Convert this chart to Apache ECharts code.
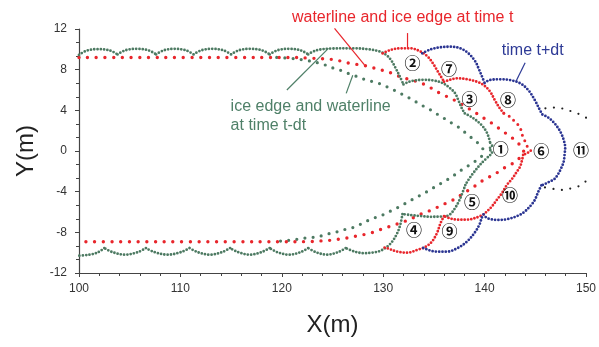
<!DOCTYPE html>
<html>
<head>
<meta charset="utf-8">
<script src="https://cdn.jsdelivr.net/npm/echarts@6/dist/echarts.min.js"></script>
<style>
  html, body { margin: 0; padding: 0; background: #fff; }
  #chart { width: 599px; height: 347px; }
</style>
</head>
<body>
<div id="chart"></div>
<script>
// ---- axes ----
const xRange = [100, 150];
const xStep = 10;
const yRange = [-12, 12];
const yStep = 4;

// ---- ice edge at time t-dt (scalloped arcs, one array per arc) ----
const greenEdgeArcs = [
  [[100, 9.45], [100.7, 9.85], [101.8, 10.02], [103.0, 9.9], [103.8, 9.5]],
  [[103.8, 9.5], [104.55, 9.9], [105.7, 10.05], [106.85, 9.9], [107.6, 9.5]],
  [[107.6, 9.5], [108.35, 9.9], [109.45, 10.05], [110.55, 9.9], [111.3, 9.5]],
  [[111.3, 9.5], [112.05, 9.9], [113.15, 10.05], [114.25, 9.9], [115.0, 9.5]],
  [[115.0, 9.5], [115.75, 9.9], [116.9, 10.05], [118.05, 9.9], [118.8, 9.5]],
  [[118.8, 9.5], [119.55, 9.9], [120.7, 10.05], [121.85, 9.9], [122.6, 9.5]],
  [[122.6, 9.5], [123.4, 9.9], [125.0, 10.08], [127.0, 10.1], [128.6, 10.0], [129.6, 9.8], [130.3, 9.45], [130.8, 8.9], [131.25, 8.1], [131.65, 7.3], [132.0, 6.55]],
  [[132.0, 6.55], [132.4, 6.75], [132.9, 6.9], [133.9, 7.0], [135.0, 6.93], [135.9, 6.66], [136.6, 6.17], [137.1, 5.67], [137.45, 4.9], [137.8, 4.1], [138.05, 3.7]],
  [[138.05, 3.7], [138.85, 3.25], [139.7, 2.55], [140.2, 1.85], [140.45, 1.2], [140.55, 0.8]],
  [[140.55, 0.8], [140.75, 0.5], [140.45, 0.2], [140.75, -0.1], [140.55, -0.4]],
  [[140.55, -0.4], [139.7, -1.2], [138.9, -2.15], [138.4, -2.85], [138.1, -3.35]],
  [[138.1, -3.35], [137.6, -4.65], [137.1, -5.6], [136.5, -6.3], [135.65, -6.45], [134.7, -6.47], [133.7, -6.4], [132.7, -6.3], [131.9, -6.2]],
  [[131.9, -6.2], [131.7, -7.2], [131.4, -8.05], [130.9, -8.9], [130.4, -9.4], [129.7, -9.83], [128.9, -10.0], [128.1, -10.05], [127.2, -9.9], [126.3, -9.55]],
  [[126.3, -9.55], [125.55, -9.95], [124.45, -10.2], [123.35, -9.95], [122.6, -9.55]],
  [[122.6, -9.55], [121.85, -9.95], [120.7, -10.2], [119.55, -9.95], [118.8, -9.55]],
  [[118.8, -9.55], [118.0, -9.95], [116.85, -10.2], [115.7, -9.95], [114.9, -9.55]],
  [[114.9, -9.55], [114.1, -9.95], [112.9, -10.2], [111.7, -9.95], [110.9, -9.55]],
  [[110.9, -9.55], [110.05, -9.95], [108.75, -10.2], [107.45, -9.95], [106.6, -9.55]],
  [[106.6, -9.55], [105.8, -9.95], [104.55, -10.2], [103.3, -9.95], [102.5, -9.55]],
  [[102.5, -9.55], [101.8, -10.0], [101.0, -10.2], [100, -10.3]]
];

// ---- ice edge at time t ----
const redEdgeArcs = [
  [[129.95, 9.6], [130.7, 9.93], [131.7, 10.1], [132.7, 10.1], [133.7, 9.77], [134.4, 9.27], [134.9, 8.62], [135.4, 7.8], [135.9, 6.98], [136.0, 6.81]],
  [[136.0, 6.81], [136.5, 6.98], [137.3, 7.15], [138.3, 7.05], [139.25, 6.81], [139.9, 6.49], [140.55, 5.83], [141.0, 5.01], [141.5, 4.2], [141.9, 3.71]],
  [[144.55, 0.03], [144.3, -0.15], [143.8, -0.39]],
  [[143.8, -0.39], [143.7, -0.88], [143.5, -1.54], [143.15, -2.09], [142.7, -2.75], [142.2, -3.34], [141.7, -4.16], [141.2, -4.82], [140.7, -5.48], [140.2, -5.97], [139.9, -6.24]],
  [[139.9, -6.24], [139.2, -6.55], [138.3, -6.75], [137.3, -6.75], [136.5, -6.6], [136.0, -6.4]],
  [[136.0, -6.4], [135.65, -7.11], [135.3, -8.09], [134.8, -8.92], [134.2, -9.41], [133.35, -9.73], [132.4, -10.0], [131.4, -9.9], [130.4, -9.57], [129.9, -9.45]]
];
const redEdgeNose = [[141.9, 3.71], [142.5, 3.37], [143.1, 2.78], [143.5, 2.33], [143.65, 1.74], [143.9, 1.15], [144.1, 0.69], [144.3, 0.27], [144.55, 0.03]];

// ---- ice edge at time t+dt ----
const blueEdgeArcs = [
  [[133.85, 9.61], [134.7, 10.0], [135.65, 10.2], [136.6, 10.26], [137.6, 10.1], [138.4, 9.61], [139.1, 8.78], [139.4, 8.13], [139.75, 7.31], [140.0, 6.69]],
  [[140.0, 6.69], [140.5, 6.98], [141.5, 7.05], [142.5, 6.98], [143.5, 6.66], [144.3, 6.0], [144.95, 5.01], [145.45, 4.03], [145.7, 3.59]],
  [[145.7, 3.59], [146.25, 3.31], [146.75, 2.88], [147.2, 2.33], [147.55, 1.74], [147.8, 1.08], [147.95, 0.32], [147.9, -0.23], [147.8, -1.05], [147.55, -1.7], [147.2, -2.36], [146.9, -2.75], [146.4, -3.02], [145.9, -3.27], [145.6, -3.39]],
  [[145.6, -3.39], [145.3, -4.0], [144.95, -4.82], [144.6, -5.31], [143.95, -5.97], [143.3, -6.36], [142.3, -6.69], [141.35, -6.78], [140.5, -6.69], [140.05, -6.46], [139.9, -6.24]],
  [[139.9, -6.24], [139.7, -6.62], [139.55, -7.11], [139.1, -7.93], [138.25, -8.92], [137.3, -9.57], [136.3, -9.9], [135.3, -9.9], [134.0, -9.57], [133.85, -9.41]]
];

// ---- next breaking arc (11) ----
const blackArc = [[146.0, 4.2], [146.7, 4.27], [147.3, 4.25], [147.95, 4.1], [148.7, 3.85], [149.5, 3.55], [150.2, 3.15], [150.8, 2.65], [151.3, 1.9], [151.6, 0.9], [151.7, 0], [151.6, -0.9], [151.3, -1.75], [150.8, -2.35], [150.2, -2.8], [149.7, -3.2], [149.2, -3.5], [148.5, -3.68], [147.55, -3.83], [146.6, -3.7], [145.8, -3.55]];

// ---- waterlines ----
const redWaterline = [[100, 9.2], [121, 9.2], [123, 9.12], [124.85, 9.02], [125.8, 8.85], [126.7, 8.62], [128.2, 8.4], [129.0, 8.19], [129.8, 7.98], [130.7, 7.7], [131.5, 7.37], [132.5, 7.05], [133.65, 6.72], [134.6, 6.26], [135.5, 5.73], [137.0, 5.01], [138.4, 4.2], [139.1, 3.77], [139.8, 3.31], [140.5, 2.88], [141.2, 2.39], [141.85, 1.9], [142.5, 1.47], [143.15, 0.91], [143.6, 0.45], [143.85, 0], [143.6, -0.5], [143.1, -1.0], [142.5, -1.38], [141.7, -1.8], [141.0, -2.29], [140.2, -2.68], [139.4, -3.18], [138.75, -3.67], [137.9, -4.16], [137.2, -4.65], [136.5, -5.0], [135.8, -5.31], [135.0, -5.7], [134.35, -5.97], [133.5, -6.29], [132.7, -6.7], [131.9, -7.0], [131.1, -7.28], [130.3, -7.54], [129.6, -7.77], [128.7, -8.09], [127.9, -8.26], [127.0, -8.43], [126.2, -8.6], [125.4, -8.7], [124.6, -8.8], [123.75, -8.85], [122.9, -8.9], [121, -8.92], [100, -8.92]];
const greenWaterline = [[119.5, 9.2], [121, 9.1], [122.5, 8.9], [124, 8.55], [125.1, 8.15], [125.9, 7.9], [126.7, 7.57], [127.5, 7.3], [128.3, 7.0], [129.45, 6.7], [130.2, 6.39], [130.9, 6.07], [131.7, 5.67], [132.45, 5.28], [133.2, 4.85], [133.95, 4.42], [134.7, 4.03], [135.3, 3.64], [136.0, 3.22], [136.7, 2.78], [137.45, 2.33], [138.1, 1.8], [138.65, 1.35], [139.2, 0.91], [139.65, 0.45], [139.9, 0], [139.8, -0.4], [139.4, -0.79], [138.75, -1.21], [138.1, -1.64], [137.45, -2.04], [136.8, -2.53], [136.1, -2.95], [135.3, -3.41], [134.7, -3.77], [133.85, -4.26], [133.1, -4.65], [132.4, -5.04], [131.6, -5.48], [130.75, -5.9], [129.95, -6.29], [129.2, -6.56], [128.4, -6.88], [127.6, -7.28], [126.8, -7.6], [126.0, -7.77], [125.2, -8.03], [124.4, -8.19], [123.6, -8.43], [122.8, -8.52], [121.95, -8.6], [121.1, -8.75], [120.25, -8.82], [119.4, -8.92]];

// ---- annotations (data coordinates) ----
const captions = [
  { text: 'waterline and ice edge at time t', at: [121.0, 13.15], color: 'red' },
  { text: 'time t+dt', at: [141.7, 9.85], color: 'blue' },
  { text: 'ice edge and waterline', at: [114.95, 4.35], color: 'green' },
  { text: 'at time t-dt', at: [114.95, 2.5], color: 'green' }
];
const leaders = [
  { from: [125.2, 12.07], to: [128.15, 8.46], color: 'red' },
  { from: [132.4, 11.6], to: [132.4, 10.15], color: 'red' },
  { from: [144.0, 8.68], to: [143.1, 6.85], color: 'blue' },
  { from: [120.5, 6.0], to: [124.6, 10.1], color: 'green' },
  { from: [126.35, 5.67], to: [127.0, 7.45], color: 'green' }
];
const eventTags = [
  { tag: '①', at: [141.6, 0.2] },
  { tag: '②', at: [132.9, 8.68] },
  { tag: '③', at: [138.5, 5.08] },
  { tag: '④', at: [133.05, -7.77] },
  { tag: '⑤', at: [138.75, -4.99] },
  { tag: '⑥', at: [145.6, 0.0] },
  { tag: '⑦', at: [136.5, 8.03] },
  { tag: '⑧', at: [142.3, 5.01] },
  { tag: '⑨', at: [136.55, -7.87] },
  { tag: '⑩', at: [142.5, -4.33] },
  { tag: '⑪', at: [149.5, 0.1] }
];

const COLORS = { green: '#4d7a62', red: '#e8262c', blue: '#2b3592', black: '#222222' };
const TEXT_COLORS = { green: '#4f8068', red: '#e8262c', blue: '#2d3a96' };

function joinArcs(arcs) {
  const out = [];
  arcs.forEach((arc, i) => {
    if (i) out.push(['-', '-']);
    arc.forEach(p => out.push(p));
  });
  return out;
}

function dotted(name, data, color, size, gap, extra) {
  return Object.assign({
    type: 'line',
    name: name,
    data: data,
    showSymbol: false,
    symbol: 'none',
    smooth: 0.35,
    silent: true,
    animation: false,
    connectNulls: false,
    lineStyle: { color: color, width: size, type: [0, gap], cap: 'round', join: 'round' }
  }, extra || {});
}

const chart = echarts.init(document.getElementById('chart'), null, { renderer: 'canvas' });

chart.setOption({
  animation: false,
  backgroundColor: '#ffffff',
  grid: { left: 79, right: 9, top: 29, bottom: 74 },
  xAxis: {
    type: 'value', min: xRange[0], max: xRange[1], interval: xStep,
    name: 'X(m)', nameLocation: 'middle', nameGap: 40,
    nameTextStyle: { fontSize: 24, color: '#222', fontFamily: '"Liberation Sans", Arial, sans-serif' },
    axisLine: { show: true, onZero: false, lineStyle: { color: '#444', width: 1.2 } },
    axisTick: { show: true, inside: false, length: 4, lineStyle: { color: '#444' } },
    minorTick: { show: true, splitNumber: 5, length: 3, lineStyle: { color: '#444' } },
    splitLine: { show: false },
    axisLabel: { color: '#333', fontSize: 12, margin: 10, fontFamily: '"Liberation Sans", Arial, sans-serif' }
  },
  yAxis: {
    type: 'value', min: yRange[0], max: yRange[1], interval: yStep,
    name: 'Y(m)', nameLocation: 'middle', nameGap: 38,
    nameTextStyle: { fontSize: 24, color: '#222', fontFamily: '"Liberation Sans", Arial, sans-serif' },
    axisLine: { show: true, onZero: false, lineStyle: { color: '#444', width: 1.2 } },
    axisTick: { show: true, inside: false, length: 4, lineStyle: { color: '#444' } },
    minorTick: { show: true, splitNumber: 3, length: 3, lineStyle: { color: '#444' } },
    splitLine: { show: false },
    axisLabel: { color: '#333', fontSize: 12, margin: 12, fontFamily: '"Liberation Sans", Arial, sans-serif' }
  },
  series: [
    dotted('waterline t-dt', greenWaterline, COLORS.green, 3.2, 8.2),
    dotted('waterline t', redWaterline, COLORS.red, 3.4, 8.7),
    dotted('ice edge t-dt', joinArcs(greenEdgeArcs), COLORS.green, 2.8, 3.3),
    dotted('ice edge t', joinArcs(redEdgeArcs), COLORS.red, 2.8, 3.3),
    dotted('ice edge t nose', redEdgeNose, COLORS.red, 3.0, 6.0),
    dotted('ice edge t+dt', joinArcs(blueEdgeArcs), COLORS.blue, 2.8, 3.3),
    dotted('arc 11', blackArc, COLORS.black, 2.2, 8.5, { clip: false })
  ]
});

// annotations are placed through the grid's own data-to-pixel mapping
function toPx(p) { return chart.convertToPixel({ gridIndex: 0 }, p); }
const graphics = [];
leaders.forEach(l => {
  const a = toPx(l.from), b = toPx(l.to);
  graphics.push({
    type: 'line', silent: true, z: 10,
    shape: { x1: a[0], y1: a[1], x2: b[0], y2: b[1] },
    style: { stroke: TEXT_COLORS[l.color], lineWidth: 1.2 }
  });
});
captions.forEach(c => {
  const p = toPx(c.at);
  graphics.push({
    type: 'text', silent: true, z: 10,
    style: {
      text: c.text, x: p[0], y: p[1], fill: TEXT_COLORS[c.color],
      font: '16px "Liberation Sans", Arial, sans-serif',
      align: 'left', verticalAlign: 'middle', textAlign: 'left', textVerticalAlign: 'middle'
    }
  });
});
eventTags.forEach(t => {
  const p = toPx(t.at);
  graphics.push({
    type: 'text', silent: true, z: 10,
    style: {
      text: t.tag, x: p[0], y: p[1], fill: '#111',
      font: 'bold 16px "Noto Sans CJK SC", "DejaVu Sans", sans-serif',
      align: 'center', verticalAlign: 'middle', textAlign: 'center', textVerticalAlign: 'middle'
    }
  });
});
chart.setOption({ graphic: graphics });
</script>
</body>
</html>
